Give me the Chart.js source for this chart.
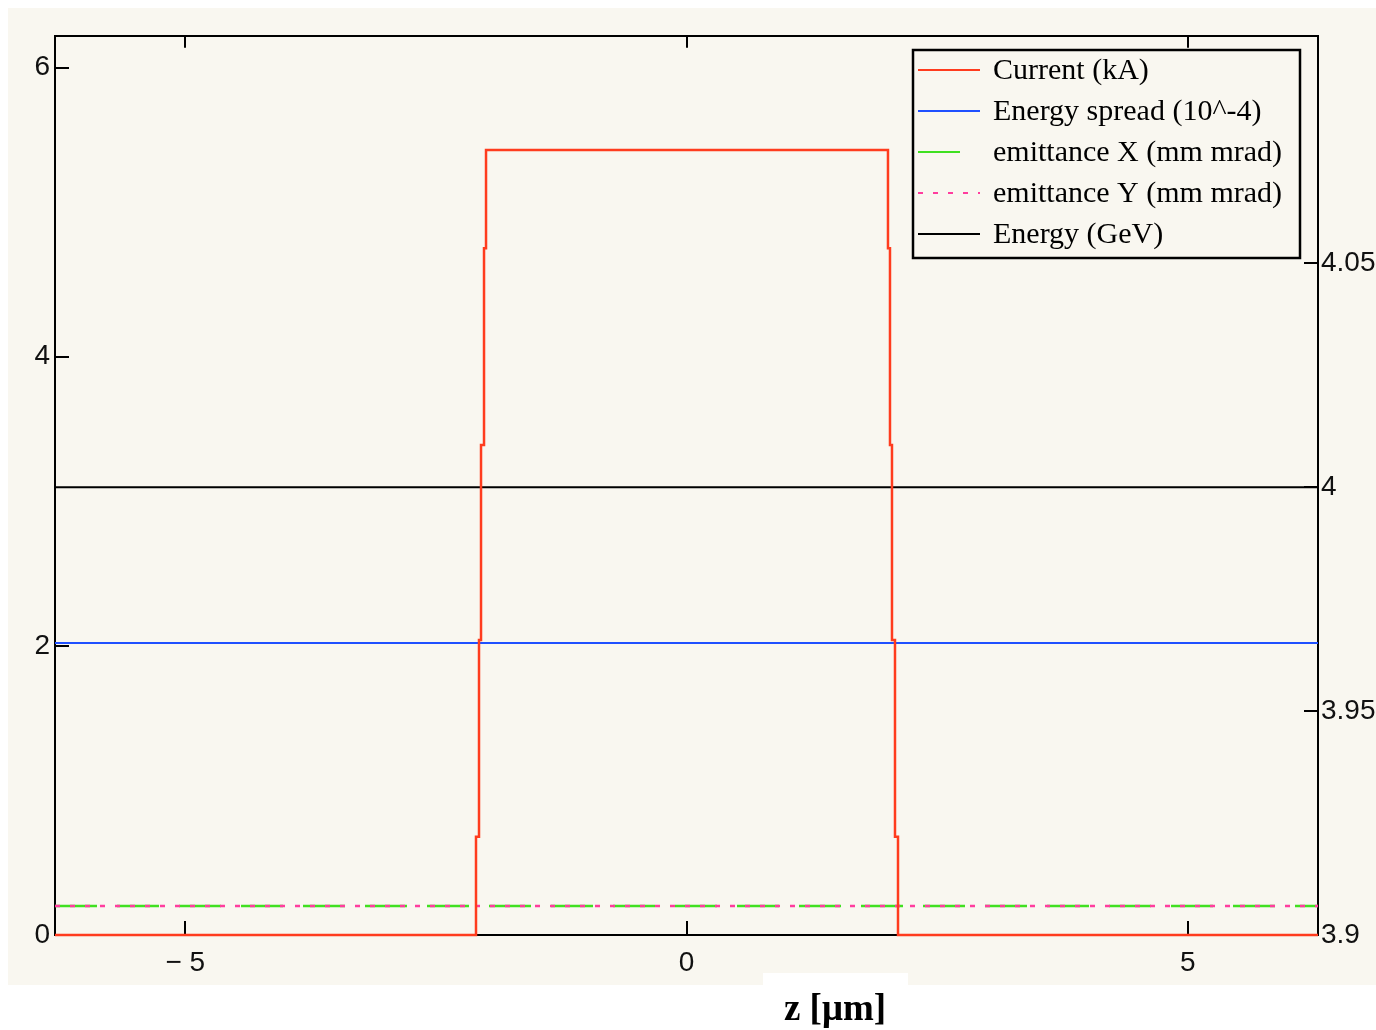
<!DOCTYPE html>
<html>
<head>
<meta charset="utf-8">
<script src="https://cdn.jsdelivr.net/npm/chart.js@4.4.0/dist/chart.umd.min.js"></script>
<style>
html, body { margin: 0; padding: 0; background: #fff; }
canvas { display: block; }
</style>
</head>
<body>
<canvas id="beamChart" width="1376" height="1030"></canvas>
<script>
// values
var zCurrent = [-6.3, -2.10, -2.07, -2.05, -2.02, -2.00, 2.01, 2.03, 2.05, 2.08, 2.11, 6.3];
var current = [0, 0.68, 2.04, 3.39, 4.75, 5.43, 4.75, 3.39, 2.04, 0.68, 0, 0];
var zFlat = [-6.3, 6.3];
var energySpread = [2.02, 2.02];
var emittanceX = [0.2, 0.2];
var emittanceY = [0.2, 0.2];
var energy = [4.0, 4.0];
var zTicks = [-5, 0, 5];
var leftTicks = [0, 2, 4, 6];
var rightTicks = [3.9, 3.95, 4, 4.05];
var seriesNames = ['Current (kA)', 'Energy spread (10^-4)', 'emittance X (mm mrad)', 'emittance Y (mm mrad)', 'Energy (GeV)'];
var axisTitle = 'z [\u03bcm]';

function points(xs, ys) {
    return xs.map(function(x, i) { return {x: x, y: ys[i]}; });
}
function setTicks(list) {
    return function(scale) { scale.ticks = list.map(function(v) { return {value: v}; }); };
}

var tickFont = {family: '"Liberation Sans", Arial, sans-serif', size: 28};

var paper = {
    id: 'paper',
    beforeDraw: function(chart) {
        var c = chart.ctx;
        c.save();
        c.fillStyle = '#ffffff';
        c.fillRect(0, 0, chart.width, chart.height);
        c.fillStyle = '#f9f7f0';
        c.fillRect(8, 8, 1368, 977);
        c.fillStyle = '#ffffff';
        c.fillRect(763, 973, 145, 12);
        c.restore();
    },
    afterDraw: function(chart) {
        var c = chart.ctx;
        c.save();
        // legend box
        c.fillStyle = '#f9f7f0';
        c.fillRect(913, 50, 387, 208);
        c.strokeStyle = '#000';
        c.lineWidth = 2.5;
        c.strokeRect(913, 50, 387, 208);
        c.font = '30px "Liberation Serif", "Times New Roman", serif';
        c.textBaseline = 'middle';
        c.textAlign = 'left';
        chart.data.datasets.forEach(function(ds) {
            var y = 70 + ds.legendRow * 41;
            c.strokeStyle = ds.borderColor;
            c.lineWidth = 2;
            c.setLineDash(ds.borderDash || []);
            c.beginPath();
            c.moveTo(918, y);
            c.lineTo(980, y);
            c.stroke();
            c.setLineDash([]);
            c.fillStyle = '#000';
            c.fillText(ds.label, 993, y + 1);
        });
        // axis title
        c.font = 'bold 37px "Liberation Serif", "Times New Roman", serif';
        c.textAlign = 'center';
        c.textBaseline = 'alphabetic';
        c.fillStyle = '#000';
        c.fillText(axisTitle, 835, 1020);
        c.restore();
    }
};

var ctx = document.getElementById('beamChart').getContext('2d');
var beamChart = new Chart(ctx, {
    type: 'scatter',
    data: {
        datasets: [{
            label: seriesNames[0],
            legendRow: 0,
            data: points(zCurrent, current),
            stepped: true,
            borderColor: '#ff3c1e',
            borderWidth: 2.5,
            yAxisID: 'y',
            order: 1
        }, {
            label: seriesNames[1],
            legendRow: 1,
            data: points(zFlat, energySpread),
            borderColor: '#1f50ff',
            borderWidth: 2,
            yAxisID: 'y',
            order: 4
        }, {
            label: seriesNames[2],
            legendRow: 2,
            data: points(zFlat, emittanceX),
            borderColor: '#40e020',
            borderWidth: 2.5,
            borderDash: [42, 20],
            yAxisID: 'y',
            order: 3
        }, {
            label: seriesNames[3],
            legendRow: 3,
            data: points(zFlat, emittanceY),
            borderColor: '#ff3d9e',
            borderWidth: 2.5,
            borderDash: [5, 10],
            yAxisID: 'y',
            order: 2
        }, {
            label: seriesNames[4],
            legendRow: 4,
            data: points(zFlat, energy),
            borderColor: '#000000',
            borderWidth: 2,
            yAxisID: 'yRight',
            order: 5
        }]
    },
    options: {
        responsive: false,
        animation: false,
        showLine: true,
        clip: 6,
        layout: {padding: 0},
        elements: {point: {radius: 0, hoverRadius: 0}, line: {tension: 0}},
        plugins: {legend: {display: false}, tooltip: {enabled: false}},
        scales: {
            x: {
                type: 'linear', position: 'bottom', min: -6.3, max: 6.3,
                afterBuildTicks: setTicks(zTicks),
                afterFit: function(s) { s.height = 95; },
                grid: {drawOnChartArea: false, drawTicks: true, tickLength: -14, color: '#000', lineWidth: 2},
                border: {display: true, color: '#000', width: 2},
                ticks: {
                    padding: 25, color: '#111', font: tickFont, maxRotation: 0, autoSkip: false,
                    callback: function(v) { return v < 0 ? '\u2212 ' + Math.abs(v) : String(v); }
                }
            },
            xTop: {
                type: 'linear', position: 'top', min: -6.3, max: 6.3,
                afterBuildTicks: setTicks(zTicks),
                afterFit: function(s) { s.height = 32; },
                grid: {drawOnChartArea: false, drawTicks: true, tickLength: -12, color: '#000', lineWidth: 2},
                border: {display: true, color: '#000', width: 2},
                ticks: {display: false}
            },
            y: {
                type: 'linear', position: 'left', min: 0, max: 6.22,
                afterBuildTicks: setTicks(leftTicks),
                afterFit: function(s) { s.width = 55; },
                grid: {drawOnChartArea: false, drawTicks: true, tickLength: -14, color: '#000', lineWidth: 2},
                border: {display: true, color: '#000', width: 2},
                ticks: {padding: 19, color: '#111', font: tickFont, autoSkip: false}
            },
            yRight: {
                type: 'linear', position: 'right', min: 3.9, max: 4.1008,
                afterBuildTicks: setTicks(rightTicks),
                afterFit: function(s) { s.width = 58; },
                grid: {drawOnChartArea: false, drawTicks: true, tickLength: -14, color: '#000', lineWidth: 2},
                border: {display: true, color: '#000', width: 2},
                ticks: {padding: 17, color: '#111', font: tickFont, autoSkip: false,
                    callback: function(v) { return String(v); }}
            }
        }
    },
    plugins: [paper]
});
</script>
</body>
</html>
